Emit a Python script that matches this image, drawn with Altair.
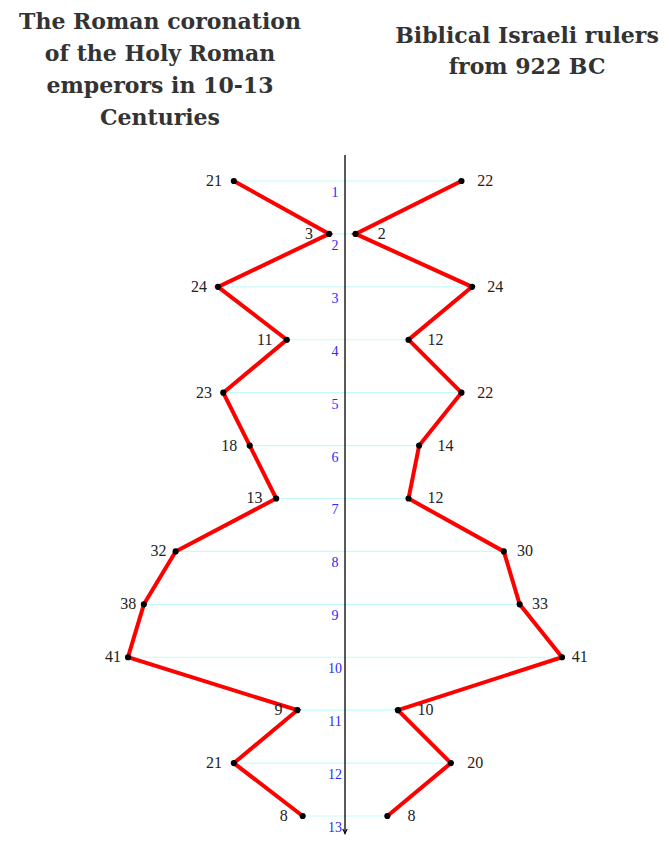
import altair as alt
import pandas as pd

rows = list(range(1, 14))
left_values = [21, 3, 24, 11, 23, 18, 13, 32, 38, 41, 9, 21, 8]
right_values = [22, 2, 24, 12, 22, 14, 12, 30, 33, 41, 10, 20, 8]
left_title = "The Roman coronation\nof the Holy Roman\nemperors in 10-13\nCenturies"
right_title = "Biblical Israeli rulers\nfrom 922 BC"

W, H = 653, 828
xs = alt.Scale(domain=[-63.67, 59.70])
ys = alt.Scale(domain=[-2.269, 13.378], reverse=True)

rows_df = pd.DataFrame({
    "row": rows,
    "xl": [-v for v in left_values],
    "xr": right_values,
    "label": [str(r) for r in rows],
})
left_df = pd.DataFrame({"row": rows, "v": left_values, "x": [-v for v in left_values],
                        "value": [str(v) for v in left_values], "side": "left"})
right_df = pd.DataFrame({"row": rows, "v": right_values, "x": right_values,
                         "value": [str(v) for v in right_values], "side": "right"})
pts = pd.concat([left_df, right_df], ignore_index=True)

X = lambda f: alt.X(f, scale=xs, axis=None)
Y = lambda f: alt.Y(f, scale=ys, axis=None)

cyan = alt.Chart(rows_df).mark_rule(color="#c6fbfb", strokeWidth=1.2).encode(
    x=X("xl:Q"), x2="xr:Q", y=Y("row:Q"))

axis_df = pd.DataFrame({"x": [0], "y": [0.51], "y2": [13.33]})
axis = alt.Chart(axis_df).mark_rule(color="black", strokeWidth=1.3).encode(
    x=X("x:Q"), y=Y("y:Q"), y2="y2:Q")
arrow = alt.Chart(axis_df).mark_point(
    shape="M-0.7,-1.4Q-0.2,-0.5,0,0Q0.2,-0.5,0.7,-1.4", filled=False,
    color="black", strokeWidth=1.2, size=40, opacity=1).encode(
    x=X("x:Q"), y=Y("y2:Q"))

lines = alt.Chart(pts).mark_line(color="#ff0000", strokeWidth=4).encode(
    x=X("x:Q"), y=Y("row:Q"), detail="side:N", order="row:Q")

dots = alt.Chart(pts).mark_circle(color="black", size=38, opacity=1).encode(
    x=X("x:Q"), y=Y("row:Q"))

ltext = alt.Chart(left_df).transform_calculate(
    lx="-(datum.v * 0.954 + 3.2)").mark_text(align="right", baseline="middle",
    font="Liberation Serif", fontSize=16, color="#222").encode(
    x=X("lx:Q"), y=Y("row:Q"), text="value:N")
rtext = alt.Chart(right_df).transform_calculate(
    lx="datum.v * 0.94 + 4.3").mark_text(align="left", baseline="middle",
    font="Liberation Serif", fontSize=16, color="#222").encode(
    x=X("lx:Q"), y=Y("row:Q"), text="value:N")

zero_df = rows_df.assign(zero=0)
blue = alt.Chart(zero_df).mark_text(align="center", baseline="middle", dx=-10, dy=12,
    font="Liberation Serif", fontSize=14, color="#2a2aff").encode(
    x=X("zero:Q"), y=Y("row:Q"), text="label:N")

t1 = alt.Chart(pd.DataFrame({"t": [left_title]})).mark_text(
    align="center", baseline="top", lineBreak="\n", lineHeight=32,
    font="DejaVu Serif", fontWeight="bold", fontSize=22, color="#333").encode(
    x=alt.value(152), y=alt.value(4), text="t:N")
t2 = alt.Chart(pd.DataFrame({"t": [right_title]})).mark_text(
    align="center", baseline="top", lineBreak="\n", lineHeight=31,
    font="DejaVu Serif", fontWeight="bold", fontSize=22, color="#333").encode(
    x=alt.value(519), y=alt.value(18), text="t:N")

chart = alt.layer(cyan, axis, arrow, lines, dots, ltext, rtext, blue, t1, t2).properties(
    width=W, height=H, autosize=alt.AutoSizeParams(type="none"), padding=0,
    background="white"
).configure_view(stroke=None)

chart.save("out.html", embed_options={"renderer": "svg", "actions": False})
